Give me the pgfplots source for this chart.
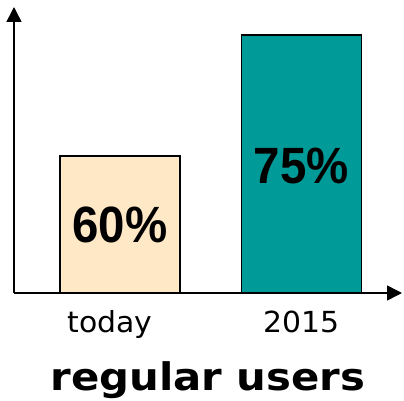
\documentclass[border=0pt]{standalone}
\usepackage{fontspec}
\setmainfont{DejaVu Sans}
\newfontfamily\barfont{Liberation Sans}
\usepackage{graphicx}
\usepackage{pgfplots}
\pgfplotsset{compat=1.18}
\usetikzlibrary{arrows.meta}
\definecolor{peach}{HTML}{FFE8C6}
\definecolor{teal2}{HTML}{009A98}
\newcommand{\barlabel}[1]{{\barfont\bfseries\fontsize{51bp}{53bp}\selectfont\scalebox{0.93}[1]{#1}}}
\newcommand{\ticktext}[1]{\scalebox{1.03}[1]{\fontsize{29bp}{31bp}\selectfont #1}}
\begin{document}
\begin{tikzpicture}
\useasboundingbox (0,0) rectangle (404bp,401bp);
\begin{axis}[
  at={(14bp,108bp)}, anchor=south west,
  scale only axis, width=388bp, height=286bp,
  xmin=-0.584, xmax=1.554, ymin=43, ymax=78.45,
  enlargelimits=false,
  axis lines=left,
  axis line style={line width=1.6bp, -{Triangle[width=15bp,length=15bp]}},
  xtick={-0.055,1}, xticklabels={\ticktext{today},\ticktext{2015}},
  ytick=\empty,
  major tick length=0pt,
  xticklabel style={anchor=base, yshift=-39bp},
  xlabel={\scalebox{1.1}[1]{\fontsize{38bp}{40bp}\selectfont\bfseries regular users}},
  xlabel style={at={(axis description cs:0.5,0)}, anchor=base, yshift=-97bp},
  clip=false,
]
\addplot[ybar, bar width=120bp, bar shift=0pt, fill=peach, draw=black, line width=1.5bp] coordinates {(0,60)};
\addplot[ybar, bar width=120bp, bar shift=0pt, fill=teal2, draw=black, line width=1.5bp] coordinates {(1,75)};
\addplot[draw=none, mark=none, nodes near coords={\barlabel{\pgfplotspointmeta}}, point meta=explicit symbolic,
  every node near coord/.style={anchor=center}]
  coordinates {(0,51.4)[60\%] (1,58.8)[75\%]};
\end{axis}
\end{tikzpicture}
\end{document}
